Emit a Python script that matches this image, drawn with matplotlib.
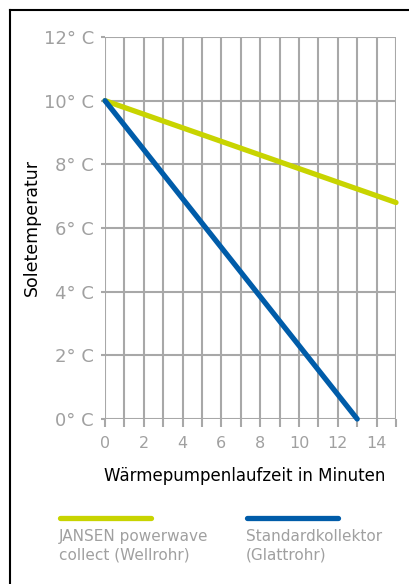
import matplotlib
matplotlib.use("Agg")
import matplotlib.pyplot as plt
from matplotlib.lines import Line2D

plt.rcParams['font.family'] = ['DejaVu Sans']

minutes_jansen = [0, 15]
temp_jansen = [10, 6.8]
minutes_std = [0, 13]
temp_std = [10, 0]
x_ticks = [0, 2, 4, 6, 8, 10, 12, 14]
y_ticks = [0, 2, 4, 6, 8, 10, 12]
y_labels = ["0° C", "2° C", "4° C", "6° C", "8° C", "10° C", "12° C"]
series_names = ["JANSEN powerwave\ncollect (Wellrohr)", "Standardkollektor\n(Glattrohr)"]

YELLOW = "#c8d400"
BLUE = "#005ca9"
GRID = "#a8a8a8"
TXT = "#a0a0a0"

W, H = 410, 584
fig = plt.figure(figsize=(W/100, H/100), dpi=100)
ax = fig.add_axes([105/W, 1-419/H, (396-105)/W, (419-37)/H])

ax.set_xlim(0, 15)
ax.set_ylim(0, 12)
ax.set_xticks(range(0, 16))
ax.set_xticklabels([str(v) if v in x_ticks else "" for v in range(0, 16)])
ax.set_yticks(y_ticks)
ax.set_yticklabels(y_labels)
ax.grid(True, color=GRID, linewidth=1.5)
ax.set_axisbelow(True)
for s in ax.spines.values():
    s.set_visible(False)
ax.tick_params(axis='x', length=6, width=1.5, color=GRID, labelcolor=TXT, labelsize=11.5, pad=6)
ax.tick_params(axis='y', length=3, width=1.5, color=GRID, labelcolor=TXT, labelsize=13, pad=5)

ax.plot(minutes_jansen, temp_jansen, color=YELLOW, lw=3.8, solid_capstyle='round', clip_on=False)
ax.plot(minutes_std, temp_std, color=BLUE, lw=3.8, solid_capstyle='round', clip_on=False)

ax.set_ylabel("Soletemperatur", fontsize=12.5, color="black", labelpad=2)
ax.set_xlabel("Wärmepumpenlaufzeit in Minuten", fontsize=12, color="black", labelpad=13)
ax.xaxis.set_label_coords(0.48, -0.125)

# legend
for x0, col, name in [(60, YELLOW, series_names[0]), (247, BLUE, series_names[1])]:
    fig.add_artist(Line2D([x0/W, (x0+91)/W], [1-518/H, 1-518/H], color=col, lw=3.8,
                          solid_capstyle='round', transform=fig.transFigure))
    fig.text(x0/W - 0.003, 1-529/H, name, color=TXT, fontsize=11, va='top', ha='left', linespacing=1.25)

# frame (left and top)
fig.add_artist(Line2D([10/W, 10/W], [0, 1-9.5/H], color="black", lw=1.5, transform=fig.transFigure))
fig.add_artist(Line2D([10/W, 1], [1-9.5/H, 1-9.5/H], color="black", lw=1.5, transform=fig.transFigure))

fig.savefig("out.png", dpi=100)
